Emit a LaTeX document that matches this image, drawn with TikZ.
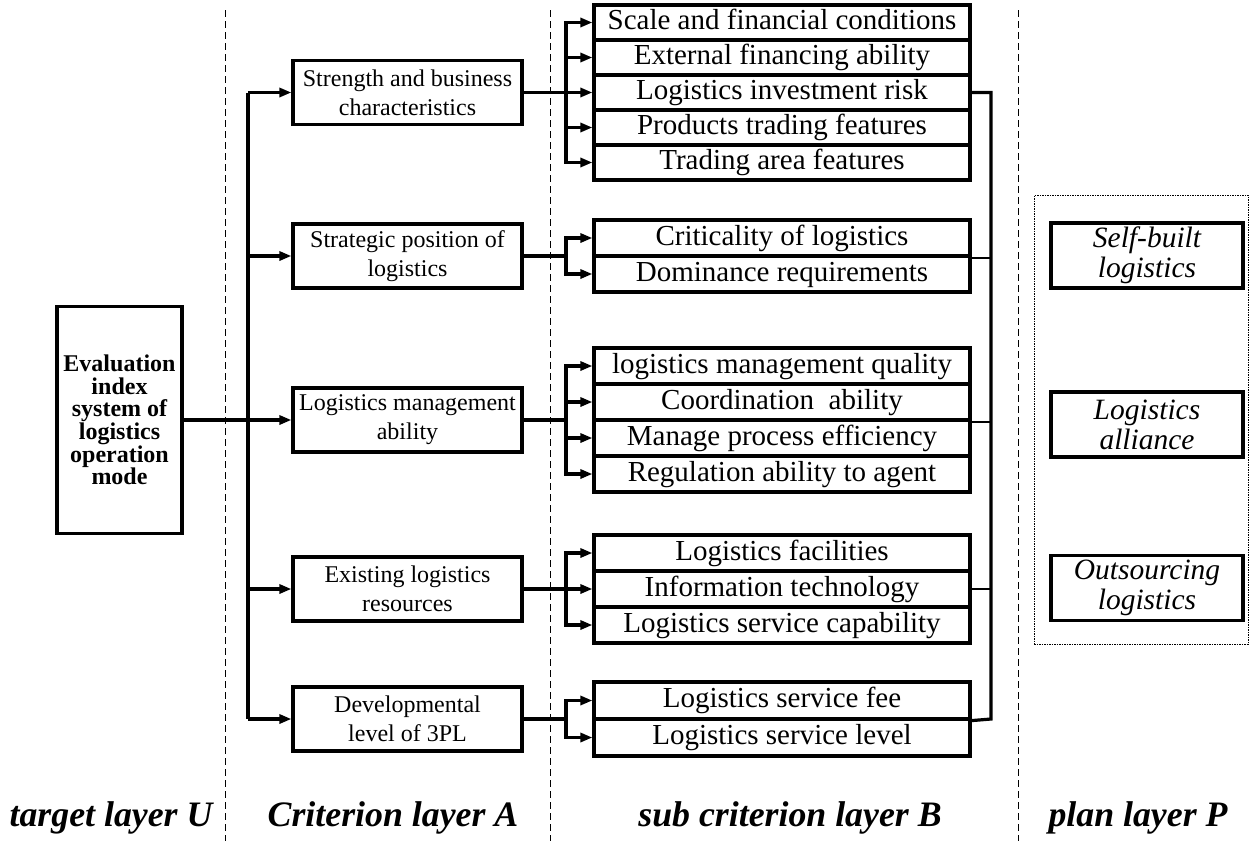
\documentclass[tikz,border=0pt]{standalone}
\usepackage{fontspec}
\setmainfont{Liberation Serif}
\usetikzlibrary{arrows.meta}
\begin{document}
\begin{tikzpicture}[x=1pt,y=-1pt,
 box/.style={draw, line width=3.2pt, align=center, inner sep=0pt, anchor=center},
 tgt/.style={box, minimum width=125pt, minimum height=227pt, font=\fontsize{24}{22.6}\selectfont\bfseries},
 crit/.style={box, minimum width=229pt, minimum height=64pt, font=\fontsize{24}{29}\selectfont},
 subbox/.style={box, minimum width=376pt, text height=20pt, text depth=6pt, font=\fontsize{29}{32}\selectfont},
 planitem/.style={box, minimum width=192pt, minimum height=65pt, font=\fontsize{29.5}{30}\selectfont\itshape},
 layer/.style={font=\fontsize{35.8}{38}\selectfont\bfseries\itshape, inner sep=0pt, anchor=base},
 sep/.style={line width=1pt, dash pattern=on 7pt off 4pt},
 conn/.style={line width=3.2pt},
 thinconn/.style={line width=2pt},
 arr/.style={conn, -{Triangle[length=12pt,width=9pt]}},
]
\useasboundingbox (0,0) rectangle (1253,841);

% separators
\draw[sep] (225,10) -- (225,841);
\draw[sep] (550,10) -- (550,841);
\draw[sep] (1018,10) -- (1018,841);

% target
\node[tgt] (t) at (119.5,420) {Evaluation\\index\\system of\\logistics\\operation\\mode};

% criteria
\node[crit] (c1) at (407.5,92.5) {Strength and business\\characteristics};
\node[crit] (c2) at (407.5,256) {Strategic position of\\logistics};
\node[crit] (c3) at (407.5,420) {Logistics management\\ability};
\node[crit] (c4) at (407.5,589) {Existing logistics\\resources};
\node[crit] (c5) at (407.5,719) {Developmental\\level of 3PL};

% sub criteria group 1
\node[subbox, minimum height=35pt] (s11) at (782,22.5) {Scale and financial conditions};
\node[subbox, minimum height=35pt] (s12) at (782,57.5) {External financing ability};
\node[subbox, minimum height=35pt] (s13) at (782,92.5) {Logistics investment risk};
\node[subbox, minimum height=35pt] (s14) at (782,127.5) {Products trading features};
\node[subbox, minimum height=35pt] (s15) at (782,162.5) {Trading area features};
% group 2
\node[subbox, minimum height=36pt] (s21) at (782,238) {Criticality of logistics};
\node[subbox, minimum height=36pt] (s22) at (782,274) {Dominance requirements};
% group 3
\node[subbox, minimum height=36pt] (s31) at (782,366) {logistics management quality};
\node[subbox, minimum height=36pt] (s32) at (782,402) {Coordination\ \ ability};
\node[subbox, minimum height=36pt] (s33) at (782,438) {Manage process efficiency};
\node[subbox, minimum height=36pt] (s34) at (782,474) {Regulation ability to agent};
% group 4
\node[subbox, minimum height=36pt] (s41) at (782,553) {Logistics facilities};
\node[subbox, minimum height=36pt] (s42) at (782,589) {Information technology};
\node[subbox, minimum height=36pt] (s43) at (782,625) {Logistics service capability};
% group 5
\node[subbox, minimum height=37pt] (s51) at (782,700.5) {Logistics service fee};
\node[subbox, minimum height=37pt] (s52) at (782,737.5) {Logistics service level};

% plan layer
\node[draw, line width=1pt, dash pattern=on 1.5pt off 1pt, minimum width=214pt, minimum height=449pt, inner sep=0pt] (pbox) at (1141,419.5) {};
\node[planitem] (p1) at (1147,255.5) {Self-built\\logistics};
\node[planitem] (p2) at (1147,424.5) {Logistics\\alliance};
\node[planitem] (p3) at (1147,588) {Outsourcing\\logistics};

% layer labels
\node[layer] (l1) at (111,826) {target layer U};
\node[layer] (l2) at (393,826) {Criterion layer A};
\node[layer] (l3) at (790,826) {sub criterion layer B};
\node[layer] (l4) at (1138,826) {plan layer P};

% target -> criteria
\coordinate (bt) at (248,92.5);
\coordinate (bb) at (248,719);
\draw[conn] (bt) -- (bb);
\draw[arr] (t.east) -- (c3.west);
\foreach \c in {c1,c2,c4,c5}{
  \draw[arr] (\c.west -| bt) -- (\c.west);
}

% criteria -> sub criteria
\coordinate (b1) at (566,92.5);
\coordinate (b2) at (566,256);
\coordinate (b3) at (566,420);
\coordinate (b4) at (566,589);
\coordinate (b5) at (566,719);
\draw[conn] (c1.east) -- (b1);
\draw[conn] (c2.east) -- (b2);
\draw[conn] (c3.east) -- (b3);
\draw[conn] (c4.east) -- (b4);
\draw[conn] (c5.east) -- (b5);
\foreach \s in {s11,s12,s13,s14,s15}{\draw[arr] (b1) |- (\s.west);}
\foreach \s in {s21,s22}{\draw[arr] (b2) |- (\s.west);}
\foreach \s in {s31,s32,s33,s34}{\draw[arr] (b3) |- (\s.west);}
\foreach \s in {s41,s42,s43}{\draw[arr] (b4) |- (\s.west);}
\foreach \s in {s51,s52}{\draw[arr] (b5) |- (\s.west);}

% right-hand collector
\coordinate (ra) at (991,92.5);
\coordinate (rb) at (991,719);
\draw[conn] (s13.east) -- (ra) -- (rb) -- (s51.south east);
\draw[thinconn] (s21.south east) -- (s21.south east -| ra);
\draw[thinconn] (s32.south east) -- (s32.south east -| ra);
\draw[line width=2.4pt] (s42.east) -- (s42.east -| ra);
\end{tikzpicture}
\end{document}
